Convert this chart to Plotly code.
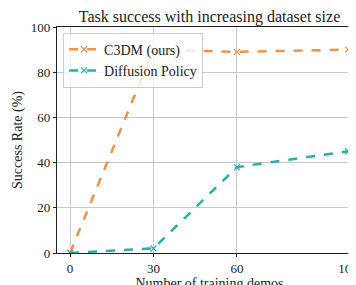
import plotly.graph_objects as go

demos = [0, 30, 60, 100]
c3dm = [0, 90, 89, 90]
diffusion = [0, 2, 38, 45]
xticks = [0, 30, 60, 100]
yticks = [0, 20, 40, 60, 80, 100]

FONT = "Liberation Serif"
orange = "#F0924A"
teal = "#26B0A8"

fig = go.Figure()
fig.add_trace(go.Scatter(x=demos, y=c3dm, name="C3DM (ours)", mode="lines+markers",
                         line=dict(color=orange, width=2.5, dash="dash"),
                         marker=dict(symbol="x-thin", size=6, line=dict(color=orange, width=1.2))))
fig.add_trace(go.Scatter(x=demos, y=diffusion, name="Diffusion Policy", mode="lines+markers",
                         line=dict(color=teal, width=2.5, dash="dash"),
                         marker=dict(symbol="x-thin", size=6, line=dict(color=teal, width=1.2))))

fig.update_layout(
    width=356, height=285,
    margin=dict(l=49, r=2, t=19, b=40, autoexpand=False),
    paper_bgcolor="white", plot_bgcolor="white",
    font=dict(family=FONT, size=13, color="#222"),
    title=dict(text="Task success with increasing dataset size", x=0.5, xref="paper",
               xanchor="center", y=1 - 8/285, yref="container", yanchor="middle",
               font=dict(family=FONT, size=16, color="#222"), automargin=False),
    showlegend=True,
    legend=dict(x=0.02, y=0.975, xanchor="left", yanchor="top",
                bgcolor="rgba(255,255,255,0.8)", bordercolor="#ccc", borderwidth=1,
                font=dict(family=FONT, size=14, color="#222")),
)
fig.update_xaxes(range=[-4.7, 105], tickvals=xticks, ticktext=[str(t) for t in xticks],
                 showgrid=True, gridcolor="#c8c8c8", gridwidth=1,
                 showline=True, linecolor="#222", linewidth=1.2, mirror=True,
                 ticks="outside", ticklen=3, tickcolor="#222", zeroline=False,
                 automargin=False, ticklabeloverflow="allow",
                 title=dict(text="Number of training demos", standoff=0, font=dict(size=14)))
fig.update_yaxes(range=[0, 100], tickvals=yticks,
                 showgrid=True, gridcolor="#c8c8c8", gridwidth=1,
                 showline=True, linecolor="#222", linewidth=1.2, mirror=True,
                 ticks="outside", ticklen=3, tickcolor="#222", zeroline=False,
                 automargin=False,
                 title=dict(text="Success Rate (%)", standoff=4, font=dict(size=14)))

fig.write_html("out.html")
